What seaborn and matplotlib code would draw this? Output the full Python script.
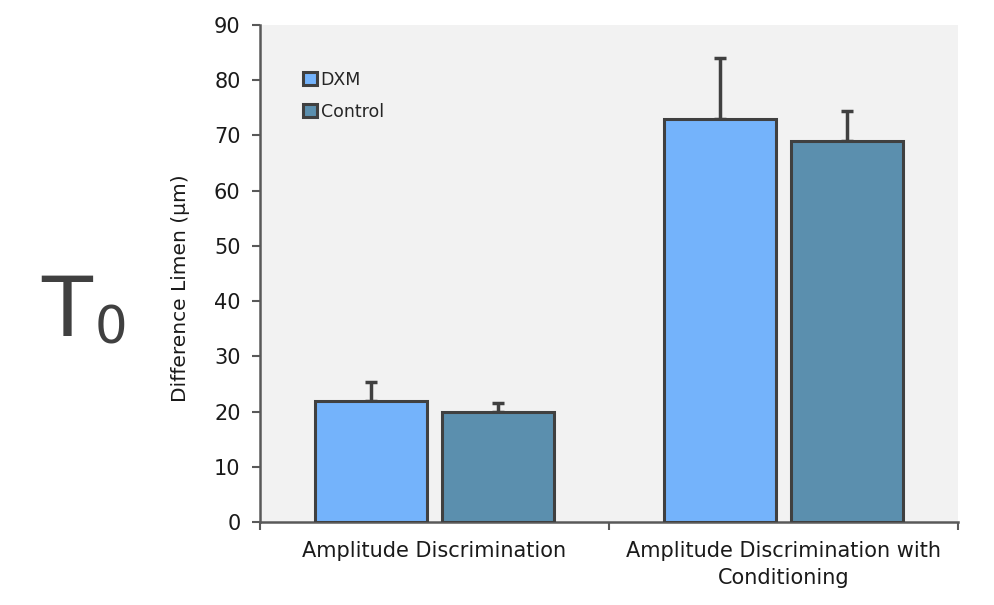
import pandas as pd
import numpy as np
import matplotlib
matplotlib.use('Agg')
import matplotlib.pyplot as plt
import seaborn as sns

conditions = ['Amplitude Discrimination', 'Amplitude Discrimination with\nConditioning']
groups = ['DXM', 'Control']
dxm_means = [22, 73]
control_means = [20, 69]
dxm_err = [3.4, 11]
control_err = [1.5, 5.5]
palette = {'DXM': '#74b3fb', 'Control': '#5b8fae'}

df = pd.DataFrame({
    'condition': conditions * 2,
    'group': ['DXM'] * 2 + ['Control'] * 2,
    'value': dxm_means + control_means,
    'err': dxm_err + control_err,
})

sns.set_style('white')
plt.rcParams['font.family'] = ['DejaVu Sans']

fig = plt.figure(figsize=(9.95, 6.05), dpi=100)
ax = fig.add_axes([0.2613, 0.1372, 0.7015, 0.8215])
ax.set_facecolor('#f2f2f2')

sns.barplot(data=df, x='condition', y='value', hue='group', hue_order=groups,
            palette=palette, saturation=1, width=0.728, gap=0.118,
            edgecolor='#404040', linewidth=2.2, errorbar=None, ax=ax, zorder=3)

# error bars (upward only) on top of each bar
for cont, g in zip(ax.containers, groups):
    sub = df[df.group == g]
    for bar, e in zip(cont, sub.err):
        x = bar.get_x() + bar.get_width() / 2
        h = bar.get_height()
        ax.errorbar(x, h, yerr=[[0], [e]], fmt='none', ecolor='#404040',
                    elinewidth=2.5, capsize=4, capthick=2.5, zorder=2)

ax.set_ylim(0, 90)
ax.set_xlim(-0.5, 1.5)
ax.set_yticks(range(0, 91, 10))
ax.set_xticks([-0.5, 0.5, 1.5], minor=False)
ax.set_xticklabels(['', '', ''])
ax.set_xticks([0, 1], minor=True)
ax.set_xticklabels(conditions, minor=True, fontsize=15, color='#1a1a1a', linespacing=1.4)
ax.tick_params(axis='x', which='minor', bottom=False, length=0, pad=14)
ax.tick_params(axis='x', which='major', bottom=True, direction='out', length=6, width=1.5, color='#595959')
ax.tick_params(axis='y', left=True, direction='out', length=6, width=1.5, color='#595959',
               labelsize=15, labelcolor='#1a1a1a', pad=8)
ax.set_xlabel('')
ax.set_ylabel('Difference Limen (µm)', fontsize=14.5, color='#1a1a1a')
ax.yaxis.set_label_coords(-0.1, 0.471)

for s in ['top', 'right']:
    ax.spines[s].set_visible(False)
for s in ['left', 'bottom']:
    ax.spines[s].set_color('#595959')
    ax.spines[s].set_linewidth(1.8)

leg = ax.legend(loc='upper left', bbox_to_anchor=(0.052, 0.922), frameon=False, fontsize=12.5,
                handlelength=0.8, handleheight=0.8, handletextpad=0.2, labelspacing=0.8,
                borderaxespad=0)

fig.text(0.041, 0.445, 'T', fontsize=60, color='#404040', ha='left', va='baseline')
fig.text(0.095, 0.433, '0', fontsize=37, color='#404040', ha='left', va='baseline')

fig.savefig('out.png', dpi=100)
